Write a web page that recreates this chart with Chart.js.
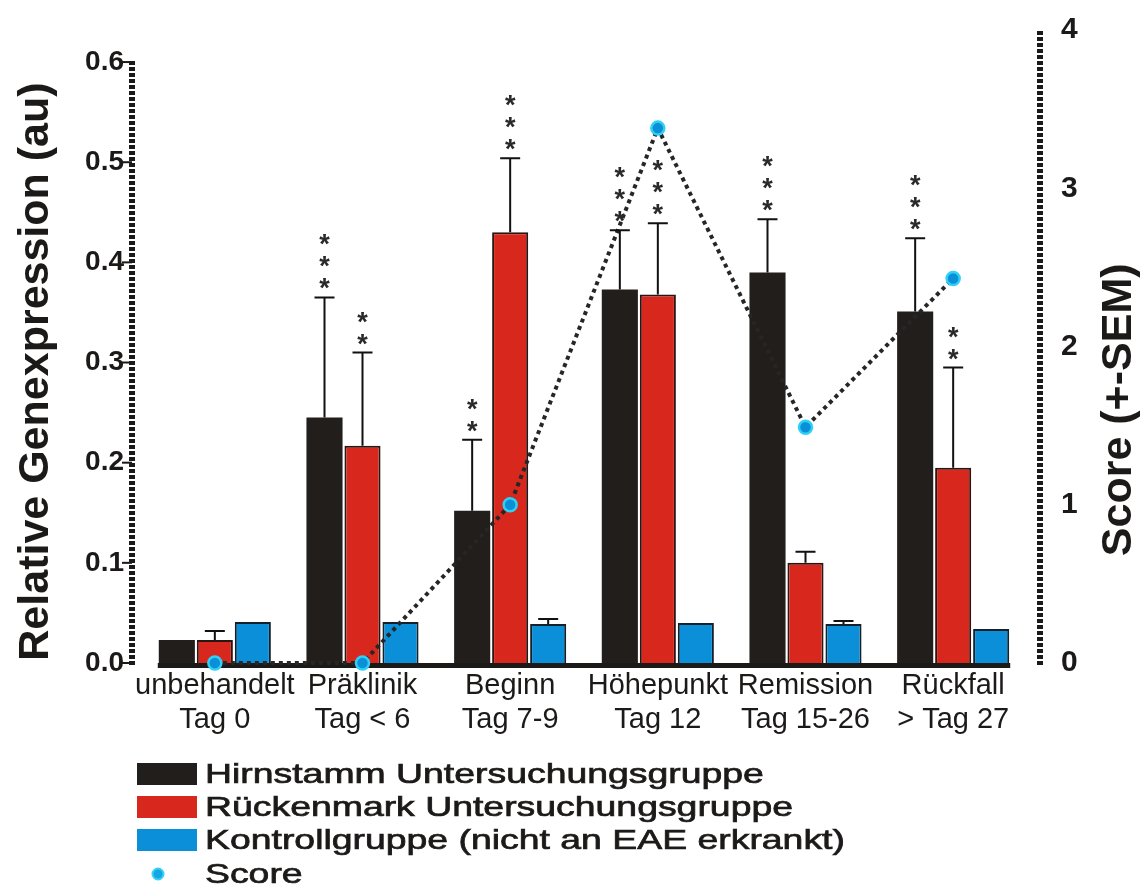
<!DOCTYPE html>
<html>
<head>
<meta charset="utf-8">
<script src="https://cdn.jsdelivr.net/npm/chart.js@4/dist/chart.umd.min.js"></script>
<style>
  html, body { margin: 0; padding: 0; background: #ffffff; }
  #wrap { width: 1142px; height: 888px; }
</style>
</head>
<body>
<div id="wrap"><canvas id="c" width="1142" height="888"></canvas></div>
<script>
// Zeitpunkte (zweizeilige Beschriftung)
const categories = [
  ["unbehandelt", "Tag 0"],
  ["Präklinik", "Tag < 6"],
  ["Beginn", "Tag 7-9"],
  ["Höhepunkt", "Tag 12"],
  ["Remission", "Tag 15-26"],
  ["Rückfall", "> Tag 27"]
];

// Relative Genexpression (au) mit SEM
const hirnstamm      = [0.023, 0.245, 0.152, 0.373, 0.390, 0.351];
const hirnstammSem   = [0,     0.120, 0.071, 0.059, 0.053, 0.073];
const rueckenmark    = [0.023, 0.217, 0.430, 0.368, 0.100, 0.195];
const rueckenmarkSem = [0.009, 0.093, 0.074, 0.071, 0.011, 0.100];
const kontrolle      = [0.041, 0.041, 0.039, 0.040, 0.039, 0.034];
const kontrolleSem   = [0,     0,     0.005, 0,     0.003, 0];

// Klinischer Score
const score = [0, 0, 1.0, 3.38, 1.49, 2.43];

// Anzahl Signifikanzsterne
const hirnstammSig   = [0, 3, 2, 3, 3, 3];
const rueckenmarkSig = [0, 2, 3, 3, 0, 2];

// Achsenbeschriftung
const expressionTicks = [0, 0.1, 0.2, 0.3, 0.4, 0.5, 0.6];
const scoreTicks = [0, 1, 2, 3, 4];

const labelsLegend = [
  "Hirnstamm Untersuchungsgruppe",
  "Rückenmark Untersuchungsgruppe",
  "Kontrollgruppe (nicht an EAE erkrankt)",
  "Score"
];

const INK = '#1c1a19';
const FONT = "'Liberation Sans', Arial, Helvetica, sans-serif";

const semByDataset = [hirnstammSem, rueckenmarkSem, kontrolleSem];
const sigByDataset = [hirnstammSig, rueckenmarkSig];

const decor = {
  id: 'decor',
  beforeDatasetsDraw(chart) {
    const { ctx, chartArea, scales } = chart;
    const y = scales.y, y2 = scales.y2;
    const zero = y.getPixelForValue(0);
    ctx.save();
    // thick baseline below the bar groups
    const first = chart.getDatasetMeta(0).data[0];
    const last = chart.getDatasetMeta(2).data[categories.length - 1];
    ctx.strokeStyle = INK;
    ctx.lineWidth = 5;
    ctx.beginPath();
    ctx.moveTo(first.x - first.width / 2 - 1, zero + 2.5);
    ctx.lineTo(last.x + last.width / 2 + 1, zero + 2.5);
    ctx.stroke();

    // dashed left axis with short ticks
    const lx = chartArea.left - 9;
    ctx.lineWidth = 6;
    ctx.setLineDash([4, 2]);
    ctx.beginPath();
    ctx.moveTo(lx, y.getPixelForValue(expressionTicks[expressionTicks.length - 1]) - 1);
    ctx.lineTo(lx, zero + 2);
    ctx.stroke();
    // dashed right axis
    const rx = chartArea.right + 13;
    ctx.beginPath();
    ctx.moveTo(rx, y2.getPixelForValue(scoreTicks[scoreTicks.length - 1]) + 1);
    ctx.lineTo(rx, zero + 2);
    ctx.stroke();
    ctx.setLineDash([]);
    ctx.lineWidth = 2;
    expressionTicks.forEach(v => {
      const py = y.getPixelForValue(v);
      ctx.beginPath();
      ctx.moveTo(lx - 10, py);
      ctx.lineTo(lx, py);
      ctx.stroke();
    });
    ctx.restore();
  },
  afterDatasetsDraw(chart) {
    const { ctx, scales } = chart;
    const y = scales.y;
    ctx.save();
    ctx.strokeStyle = '#111111';
    ctx.lineWidth = 2;
    semByDataset.forEach((sem, di) => {
      const meta = chart.getDatasetMeta(di);
      const vals = chart.data.datasets[di].data;
      meta.data.forEach((bar, i) => {
        if (!sem[i]) return;
        const top = y.getPixelForValue(vals[i] + sem[i]);
        ctx.beginPath();
        ctx.moveTo(bar.x, bar.y);
        ctx.lineTo(bar.x, top);
        ctx.moveTo(bar.x - 10, top);
        ctx.lineTo(bar.x + 10, top);
        ctx.stroke();
      });
    });
    // significance stars stacked above the SEM cap
    ctx.fillStyle = '#2a2a2a';
    ctx.font = 'bold 27px ' + FONT;
    ctx.textAlign = 'center';
    ctx.textBaseline = 'alphabetic';
    sigByDataset.forEach((sig, di) => {
      const meta = chart.getDatasetMeta(di);
      const vals = chart.data.datasets[di].data;
      const sem = semByDataset[di];
      meta.data.forEach((bar, i) => {
        const top = y.getPixelForValue(vals[i] + sem[i]);
        for (let k = 0; k < sig[i]; k++) {
          const cy = top - 15 - 22 * k;
          ctx.fillText('*', bar.x, cy + 15);
        }
      });
    });
    ctx.restore();
  },
  afterDraw(chart) {
    const { ctx, scales } = chart;
    ctx.save();
    ctx.fillStyle = INK;
    // axis titles, both reading bottom to top
    ctx.font = 'bold 43px ' + FONT;
    ctx.textAlign = 'center';
    ctx.textBaseline = 'alphabetic';
    ctx.save();
    ctx.translate(48, scales.y.getPixelForValue(0.291));
    ctx.rotate(-Math.PI / 2);
    ctx.fillText('Relative Genexpression (au)', 0, 0);
    ctx.restore();
    ctx.save();
    ctx.translate(1131, scales.y2.getPixelForValue(1.6));
    ctx.rotate(-Math.PI / 2);
    ctx.fillText('Score (+-SEM)', 0, 0);
    ctx.restore();

    // legend
    const rows = [774, 807, 840, 874];
    ctx.font = '28px ' + FONT;
    ctx.textAlign = 'left';
    ctx.textBaseline = 'middle';
    chart.data.datasets.forEach((ds, i) => {
      const ry = rows[i];
      if (ds.type === 'line') {
        ctx.beginPath();
        ctx.arc(158, ry, 5.5, 0, Math.PI * 2);
        ctx.fillStyle = '#12a6e4';
        ctx.fill();
        ctx.lineWidth = 2;
        ctx.strokeStyle = '#35d2f6';
        ctx.stroke();
      } else {
        ctx.fillStyle = ds.backgroundColor;
        ctx.fillRect(137, ry - 11, 60, 22);
      }
      ctx.fillStyle = INK;
      ctx.strokeStyle = INK;
      ctx.lineWidth = 0.7;
      ctx.save();
      ctx.translate(205, ry + 1);
      ctx.scale(1.335, 1);
      ctx.fillText(ds.label, 0, 0);
      ctx.strokeText(ds.label, 0, 0);
      ctx.restore();
    });
    ctx.restore();
  }
};

// keep the tick padding from enlarging the plot margins
function fixVertical(width) {
  return function (scale) {
    scale.width = width;
    scale.paddingTop = 0;
    scale.paddingBottom = 0;
  };
}

const barCommon = {
  type: 'bar',
  yAxisID: 'y',
  order: 1,
  barPercentage: 0.95,
  categoryPercentage: 0.772,
  borderSkipped: 'bottom'
};

new Chart(document.getElementById('c'), {
  data: {
    labels: categories,
    datasets: [
      Object.assign({}, barCommon, {
        label: labelsLegend[0], data: hirnstamm,
        backgroundColor: '#221e1c', borderColor: '#221e1c', borderWidth: 0
      }),
      Object.assign({}, barCommon, {
        label: labelsLegend[1], data: rueckenmark,
        backgroundColor: '#d8281e', borderColor: '#2a1512', borderWidth: 2
      }),
      Object.assign({}, barCommon, {
        label: labelsLegend[2], data: kontrolle,
        backgroundColor: '#0a8fd8', borderColor: '#14202a', borderWidth: 2
      }),
      {
        type: 'line',
        label: labelsLegend[3],
        data: score,
        yAxisID: 'y2',
        order: 0,
        clip: false,
        borderColor: '#262626',
        borderWidth: 4,
        borderDash: [4, 4],
        tension: 0,
        fill: false,
        pointRadius: 6.5,
        pointBackgroundColor: '#0b90d8',
        pointBorderColor: '#2fd0f5',
        pointBorderWidth: 2.5
      }
    ]
  },
  options: {
    responsive: false,
    devicePixelRatio: 1,
    animation: false,
    events: [],
    layout: { padding: { left: 0, right: 0, top: 30, bottom: 145 } },
    plugins: {
      legend: { display: false },
      tooltip: { enabled: false },
      title: { display: false }
    },
    scales: {
      x: {
        type: 'category',
        offset: true,
        grid: { display: false, drawTicks: false },
        border: { display: false },
        ticks: {
          autoSkip: false, maxRotation: 0, minRotation: 0,
          padding: 6,
          color: INK,
          font: { family: FONT, size: 29, lineHeight: 1.17 }
        },
        afterFit(scale) { scale.height = 80; }
      },
      y: {
        type: 'linear',
        position: 'left',
        min: 0,
        max: 0.632,
        grid: { display: false, drawTicks: false },
        border: { display: false },
        afterBuildTicks(scale) { scale.ticks = expressionTicks.map(v => ({ value: v })); },
        ticks: {
          padding: 17,
          color: INK,
          font: { family: FONT, size: 28, weight: 'bold' },
          callback: v => Number(v).toFixed(1)
        },
        afterFit: fixVertical(141)
      },
      y2: {
        type: 'linear',
        position: 'right',
        min: 0,
        max: 4,
        grid: { display: false, drawTicks: false },
        border: { display: false },
        afterBuildTicks(scale) { scale.ticks = scoreTicks.map(v => ({ value: v })); },
        ticks: {
          padding: 34,
          color: INK,
          font: { family: FONT, size: 30, weight: 'bold' },
          callback: v => String(v)
        },
        afterFit: fixVertical(115)
      }
    }
  },
  plugins: [decor]
});
</script>
</body>
</html>
